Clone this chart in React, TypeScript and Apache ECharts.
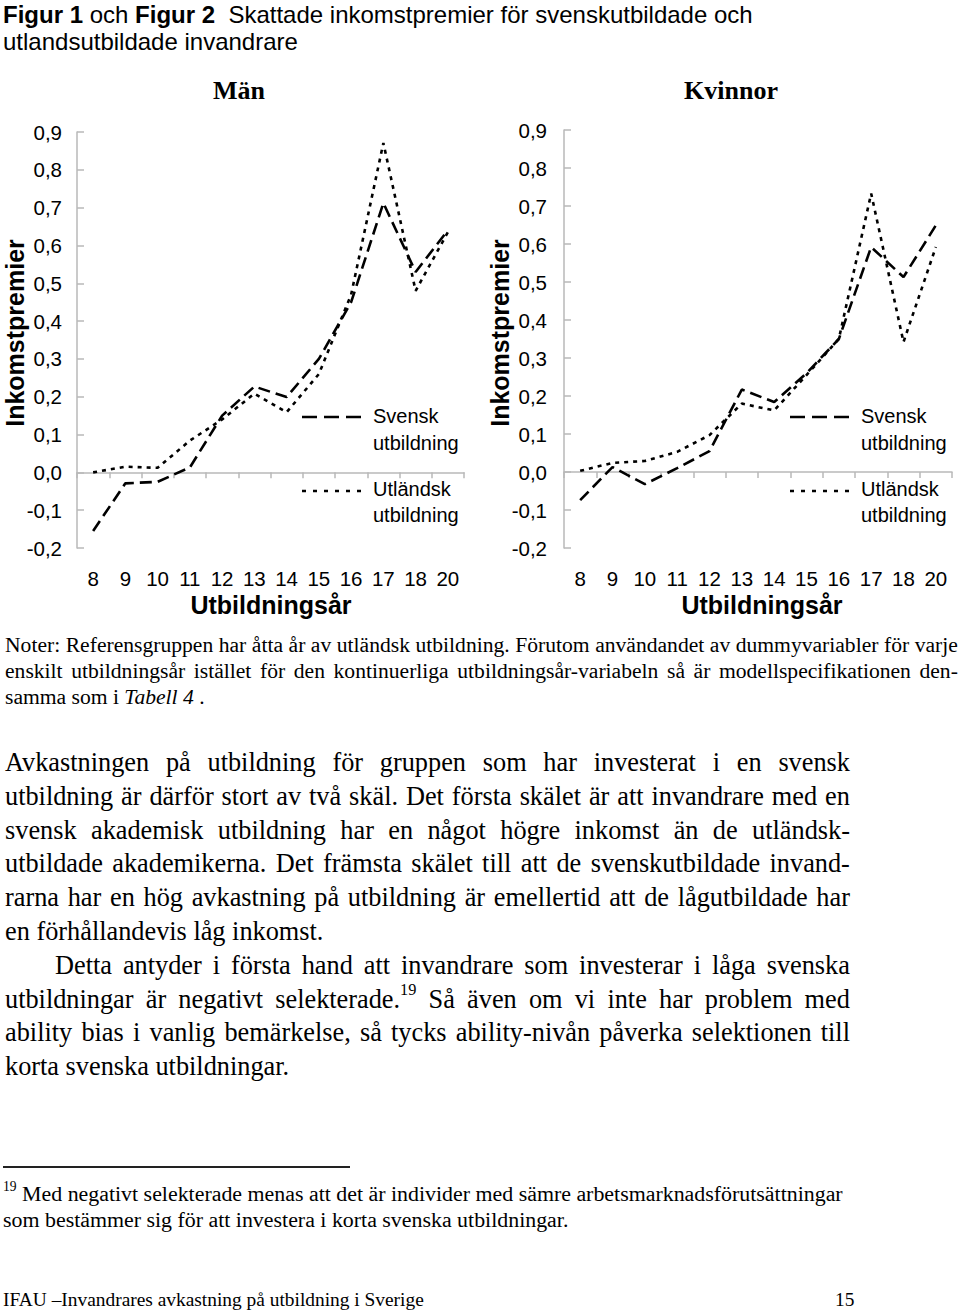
import React, { useEffect, useRef } from 'react';
import * as echarts from 'echarts';

// ---------- data ----------
const categories = ['8', '9', '10', '11', '12', '13', '14', '15', '16', '17', '18', '20'];
const menSvensk = [-0.155, -0.029, -0.025, 0.013, 0.15, 0.227, 0.199, 0.3, 0.45, 0.712, 0.53, 0.64];
const menUtlandsk = [0.0, 0.015, 0.012, 0.084, 0.14, 0.208, 0.159, 0.26, 0.47, 0.871, 0.48, 0.635];
const womenSvensk = [-0.074, 0.013, -0.032, 0.01, 0.055, 0.217, 0.184, 0.26, 0.35, 0.592, 0.513, 0.649];
const womenUtlandsk = [0.003, 0.024, 0.029, 0.053, 0.097, 0.18, 0.162, 0.255, 0.35, 0.733, 0.342, 0.592];
const panelTitles = ['Män', 'Kvinnor'];
const seriesNames = ['Svensk utbildning', 'Utländsk utbildning'];
const legendFirst = ['Svensk', 'Utländsk'];
const legendSecond = 'utbildning';
const yAxisName = 'Inkomstpremier';
const xAxisName = 'Utbildningsår';

const SANS = '"Liberation Sans", Arial, Helvetica, sans-serif';
const SERIF = '"Liberation Serif", "Times New Roman", Times, serif';

const yFmt = (v: number) => (Math.round(v * 10) / 10).toFixed(1).replace('.', ',').replace('-0,0', '0,0');

const grids = [
  { left: 77, top: 132, width: 387, height: 416 },
  { left: 564, top: 130, width: 388, height: 418 },
];

function buildOption() {
  const axisColor = '#b9b9b9';
  const xAxes = grids.map((_, i) => ({
    type: 'category',
    gridIndex: i,
    data: categories,
    boundaryGap: true,
    axisLine: { show: true, lineStyle: { color: axisColor, width: 1.5 } },
    axisTick: { show: true, length: 6, lineStyle: { color: axisColor, width: 1.5 } },
    axisLabel: { color: '#000', fontSize: 20.5, fontFamily: SANS, margin: 20, interval: 0 },
    splitLine: { show: false },
  }));
  const yAxes = grids.map((_, i) => ({
    type: 'value',
    gridIndex: i,
    min: -0.2,
    max: 0.9,
    interval: 0.1,
    axisLine: { show: true, lineStyle: { color: axisColor, width: 1.5 } },
    axisTick: { show: true, inside: true, length: 7, lineStyle: { color: axisColor, width: 1.5 } },
    axisLabel: { color: '#000', fontSize: 20.5, fontFamily: SANS, margin: i === 0 ? 15 : 17, formatter: yFmt },
    splitLine: { show: false },
  }));
  const dashed = [12, 6];
  const dotted = [4, 5];
  const mk = (name: string, data: number[], idx: number, dash: number[]) => ({
    name,
    type: 'line',
    xAxisIndex: idx,
    yAxisIndex: idx,
    data,
    symbol: 'none',
    lineStyle: { color: '#000', width: 2.6, type: dash, cap: 'butt' },
    silent: true,
  });
  const series = [
    mk(seriesNames[0], menSvensk, 0, dashed),
    mk(seriesNames[1], menUtlandsk, 0, dotted),
    mk(seriesNames[0], womenSvensk, 1, dashed),
    mk(seriesNames[1], womenUtlandsk, 1, dotted),
  ];

  const graphics: any[] = [];
  const titleX = [239, 731];
  const yNameX = [15, 500];
  const xNameX = [271, 762];
  const legX = [302, 790];
  grids.forEach((g, i) => {
    graphics.push({
      type: 'text', x: titleX[i], y: 90,
      style: { text: panelTitles[i], font: `bold 26px ${SERIF}`, fill: '#000', align: 'center', verticalAlign: 'middle' },
    });
    graphics.push({
      type: 'text', x: yNameX[i], y: 333, rotation: Math.PI / 2,
      style: { text: yAxisName, font: `bold 25px ${SANS}`, fill: '#000', align: 'center', verticalAlign: 'middle' },
    });
    graphics.push({
      type: 'text', x: xNameX[i], y: 605,
      style: { text: xAxisName, font: `bold 25px ${SANS}`, fill: '#000', align: 'center', verticalAlign: 'middle' },
    });
    // legend
    graphics.push({
      type: 'line', shape: { x1: legX[i], y1: 417, x2: legX[i] + 61, y2: 417 },
      style: { stroke: '#000', lineWidth: 2.6, lineDash: [15, 7] },
    });
    graphics.push({
      type: 'line', shape: { x1: legX[i], y1: 491, x2: legX[i] + 61, y2: 491 },
      style: { stroke: '#000', lineWidth: 2.6, lineDash: [4, 7] },
    });
    const tx = legX[i] + 71;
    [[legendFirst[0], 416], [legendSecond, 443], [legendFirst[1], 489], [legendSecond, 515]].forEach(([t, y]) => {
      graphics.push({
        type: 'text', x: tx, y: y as number,
        style: { text: t as string, font: `20px ${SANS}`, fill: '#000', align: 'left', verticalAlign: 'middle' },
      });
    });
  });

  return {
    animation: false,
    backgroundColor: 'transparent',
    grid: grids.map((g) => ({ ...g, containLabel: false })),
    xAxis: xAxes,
    yAxis: yAxes,
    series,
    graphic: graphics,
  };
}

// ---------- page text ----------
function TextLine({ x, baseline, size, width, family, words, children, ratio }: any) {
  const top = baseline - ratio * size;
  const base: React.CSSProperties = {
    position: 'absolute', left: x, top, fontFamily: family, fontSize: size,
    lineHeight: `${size}px`, whiteSpace: 'nowrap', color: '#000',
  };
  if (words && width) {
    return (
      <div style={{ ...base, width, display: 'flex', justifyContent: 'space-between', alignItems: 'baseline' }}>
        {words}
      </div>
    );
  }
  return <div style={base}>{children}</div>;
}

const split = (s: string) => s.split(' ').map((w, i) => <span key={i}>{w}</span>);

const noteLines = [
  'Noter: Referensgruppen har åtta år av utländsk utbildning. Förutom användandet av dummyvariabler för varje',
  'enskilt utbildningsår istället för den kontinuerliga utbildningsår-variabeln så är modellspecifikationen den-',
];
const bodyLines = [
  'Avkastningen på utbildning för gruppen som har investerat i en svensk',
  'utbildning är därför stort av två skäl. Det första skälet är att invandrare med en',
  'svensk akademisk utbildning har en något högre inkomst än de utländsk-',
  'utbildade akademikerna. Det främsta skälet till att de svenskutbildade invand-',
  'rarna har en hög avkastning på utbildning är emellertid att de lågutbildade har',
];
const bodyEnd1 = 'en förhållandevis låg inkomst.';
const body2First = 'Detta antyder i första hand att invandrare som investerar i låga svenska';
const body2Third = 'ability bias i vanlig bemärkelse, så tycks ability-nivån påverka selektionen till';
const body2End = 'korta svenska utbildningar.';

export default function App() {
  const ref = useRef<HTMLDivElement>(null);
  useEffect(() => {
    const chart = echarts.init(ref.current!, null, { renderer: 'svg' });
    chart.setOption(buildOption() as any);
    return () => chart.dispose();
  }, []);

  const SR = 0.8375; // serif baseline ratio
  const NR = 0.8465; // sans baseline ratio
  const bodySize = 26.3;
  const noteSize = 21.6;
  const fnSize = 21.9;
  const footSize = 19.4;
  const bodyBase = 772;
  const step = 33.8;

  return (
    <div style={{ position: 'absolute', left: 0, top: 0, width: 960, height: 1312, background: '#fff', overflow: 'hidden' }}>
      <div ref={ref} style={{ position: 'absolute', left: 0, top: 0, width: 960, height: 630 }} />

      {/* figure title */}
      <TextLine x={3} baseline={23} size={24} family={SANS} ratio={NR}>
        <b>Figur 1</b> och <b>Figur 2</b>&nbsp; Skattade inkomstpremier för svenskutbildade och
      </TextLine>
      <TextLine x={3} baseline={50} size={24} family={SANS} ratio={NR}>
        utlandsutbildade invandrare
      </TextLine>

      {/* notes */}
      {noteLines.map((t, i) => (
        <TextLine key={i} x={5} baseline={653 + i * 26} size={noteSize} width={953} family={SERIF} ratio={SR} words={split(t)} />
      ))}
      <TextLine x={5} baseline={705} size={noteSize} family={SERIF} ratio={SR}>
        samma som i <i>Tabell 4</i> .
      </TextLine>

      {/* body paragraph 1 */}
      {bodyLines.map((t, i) => (
        <TextLine key={i} x={5} baseline={bodyBase + i * step} size={bodySize} width={845} family={SERIF} ratio={SR} words={split(t)} />
      ))}
      <TextLine x={5} baseline={bodyBase + 5 * step} size={bodySize} family={SERIF} ratio={SR}>{bodyEnd1}</TextLine>

      {/* body paragraph 2 */}
      <TextLine x={55} baseline={bodyBase + 6 * step} size={bodySize} width={795} family={SERIF} ratio={SR} words={split(body2First)} />
      <TextLine
        x={5}
        baseline={bodyBase + 7 * step}
        size={bodySize}
        width={845}
        family={SERIF}
        ratio={SR}
        words={[
          <span key="a">utbildningar</span>,
          <span key="b">är</span>,
          <span key="c">negativt</span>,
          <span key="d">selekterade.<span style={{ fontSize: '0.62em', position: 'relative', top: '-0.75em' }}>19</span></span>,
          ...'Så även om vi inte har problem med'.split(' ').map((w, i) => <span key={'e' + i}>{w}</span>),
        ]}
      />
      <TextLine x={5} baseline={bodyBase + 8 * step} size={bodySize} width={845} family={SERIF} ratio={SR} words={split(body2Third)} />
      <TextLine x={5} baseline={bodyBase + 9 * step} size={bodySize} family={SERIF} ratio={SR}>{body2End}</TextLine>

      {/* footnote */}
      <div style={{ position: 'absolute', left: 3, top: 1166, width: 347, height: 2, background: '#222' }} />
      <TextLine x={3} baseline={1201} size={fnSize} family={SERIF} ratio={SR}>
        <span style={{ fontSize: '0.62em', position: 'relative', top: '-0.7em' }}>19</span>
        &nbsp;Med negativt selekterade menas att det är individer med sämre arbetsmarknadsförutsättningar
      </TextLine>
      <TextLine x={3} baseline={1227} size={fnSize} family={SERIF} ratio={SR}>
        som bestämmer sig för att investera i korta svenska utbildningar.
      </TextLine>

      {/* page footer */}
      <TextLine x={3} baseline={1306} size={footSize} family={SERIF} ratio={SR}>
        IFAU –Invandrares avkastning på utbildning i Sverige
      </TextLine>
      <TextLine x={835} baseline={1306} size={footSize} family={SERIF} ratio={SR}>
        15
      </TextLine>
    </div>
  );
}
